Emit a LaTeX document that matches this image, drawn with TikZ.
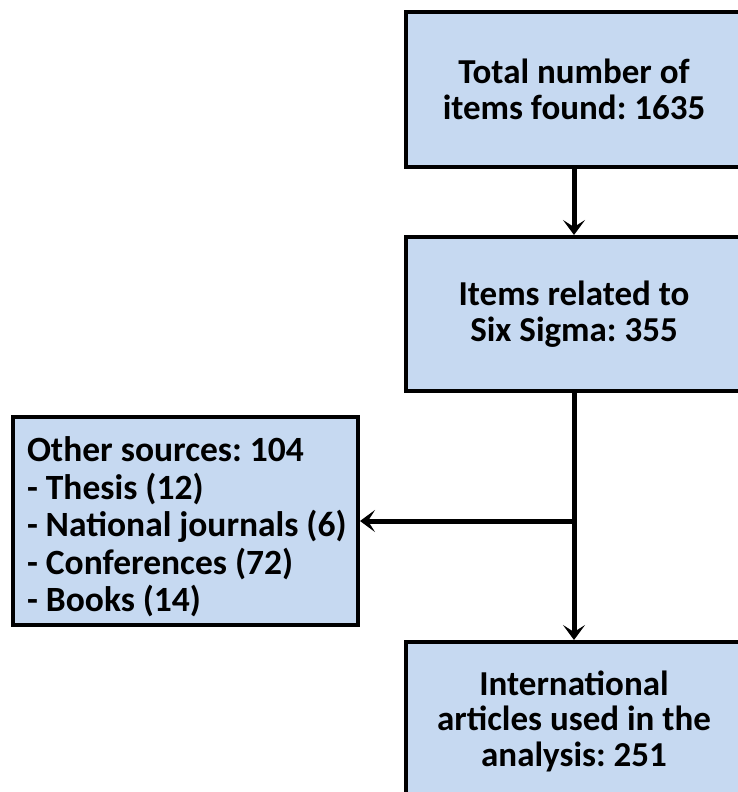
\documentclass[tikz,border=0pt]{standalone}
\usepackage{fontspec}
\setmainfont{Carlito}
\usetikzlibrary{arrows.meta}
\definecolor{boxfill}{HTML}{C6D9F1}
\frenchspacing
\begin{document}
\begin{tikzpicture}[x=1pt,y=-1pt,
  box/.style={draw=black,line width=4pt,fill=boxfill,rectangle,
    font=\bfseries\fontsize{35}{35.5}\selectfont,align=center,inner sep=0pt},
  arr/.style={line width=5pt,-{Stealth[length=15pt,width=22pt,inset=7pt]}}]
\useasboundingbox (0,0) rectangle (738,792);
\clip (0,0) rectangle (738,792);
\node[box,minimum width=336pt,minimum height=155pt] (b1) at (574,89.5)
  {Total number of\\items found: 1635};
\node[box,minimum width=336pt,minimum height=154pt] (b2) at (574,314)
  {Items related to\\Six Sigma: 355};
\node[box,minimum width=336pt,minimum height=158pt] (b4) at (574,721)
  {International\\articles used in the\\analysis: 251};
\node[box,minimum width=345pt,minimum height=208pt,align=left,
  font=\bfseries\fontsize{35.5}{37.5}\selectfont] (b3) at (185.5,521)
  {\begin{minipage}{322pt}\leftskip=2.5pt\vspace*{12pt}Other sources: 104\\- Thesis (12)\\- National journals (6)\\- Conferences (72)\\- Books (14)\end{minipage}};
\coordinate (j) at (b2.south |- b3.east);
\draw[arr] (b1) -- (b2);
\draw[arr] (b2) -- (b4);
\draw[arr] (j) -- (b3);
\end{tikzpicture}
\end{document}
